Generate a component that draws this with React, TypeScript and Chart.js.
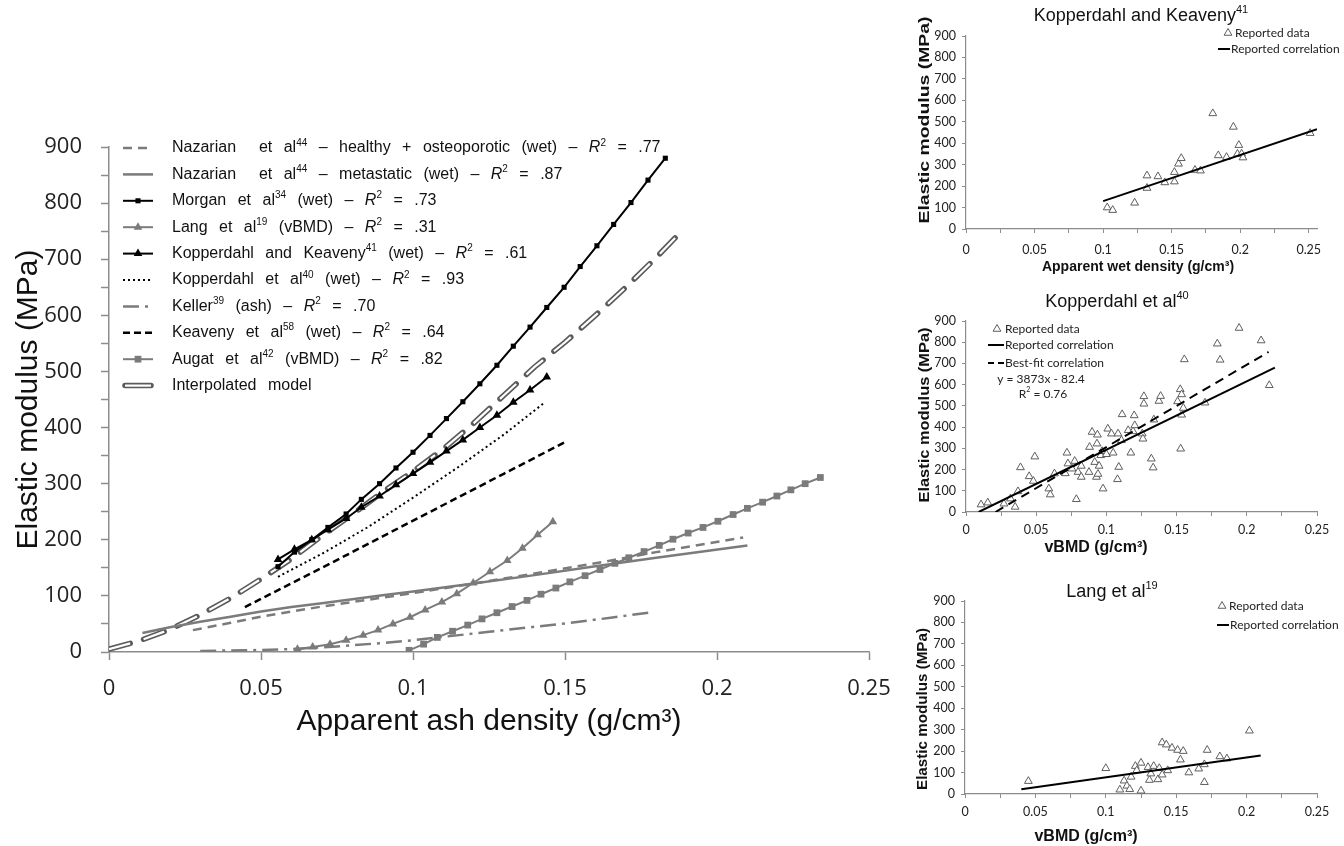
import React, { useEffect, useRef } from 'react';
import { Chart, registerables } from 'chart.js';
Chart.register(...registerables);

// ---------------- main chart data ----------------
const mainXTicks = [0, 0.05, 0.1, 0.15, 0.2, 0.25];
const mainXTickLabels = ['0', '0.05', '0.1', '0.15', '0.2', '0.25'];
const mainYTicks = [0, 50, 100, 150, 200, 250, 300, 350, 400, 450, 500, 550, 600, 650, 700, 750, 800, 850, 900];
const mainYTickLabels = ['0', '', '100', '', '200', '', '300', '', '400', '', '500', '', '600', '', '700', '', '800', '', '900'];

const nazHealthyX = [0.0276, 0.04, 0.05, 0.06, 0.07, 0.08, 0.09, 0.1, 0.12, 0.14, 0.16, 0.18, 0.2086];
const nazHealthyY = [39, 52, 63, 72, 81, 89, 97, 105, 122, 140, 158, 178, 204];
const nazMetaX = [0.011, 0.02, 0.03, 0.04, 0.05, 0.06, 0.07, 0.08, 0.09, 0.1, 0.12, 0.14, 0.16, 0.18, 0.21];
const nazMetaY = [34, 44, 54, 63, 72, 80, 87, 94, 101, 108, 122, 137, 153, 168, 190];
const morganX = [0.0556, 0.061, 0.0667, 0.072, 0.078, 0.083, 0.089, 0.0944, 0.1, 0.1056, 0.111, 0.1164, 0.122, 0.1276, 0.133, 0.1385, 0.144, 0.1497, 0.155, 0.1605, 0.166, 0.1717, 0.1773, 0.183];
const morganY = [152, 178, 200, 222, 246, 272, 300, 328, 356, 386, 416, 446, 478, 511, 545, 579, 614, 650, 687, 724, 762, 801, 841, 880];
const langX = [0.062, 0.067, 0.0727, 0.078, 0.0836, 0.0885, 0.0934, 0.099, 0.104, 0.1095, 0.1144, 0.1198, 0.1253, 0.131, 0.136, 0.141, 0.146];
const langY = [5, 9, 14, 21, 30, 39, 50, 62, 75, 89, 104, 123, 143, 163, 185, 209, 232];
const kkX = [0.0556, 0.061, 0.0667, 0.072, 0.078, 0.083, 0.089, 0.0944, 0.1, 0.1056, 0.111, 0.1164, 0.122, 0.1276, 0.133, 0.1385, 0.144];
const kkY = [165, 183, 200, 218, 238, 258, 278, 298, 318, 338, 358, 378, 400, 422, 445, 467, 490];
const kopX = [0.0556, 0.07, 0.085, 0.1, 0.115, 0.13, 0.1434];
const kopY = [134, 175, 222, 275, 330, 388, 445];
const kellerX = [0.03, 0.045, 0.06, 0.075, 0.09, 0.1, 0.11, 0.125, 0.14, 0.15, 0.165, 0.1786];
const kellerY = [2, 3, 5, 10, 16, 21, 27, 36, 45, 51, 61, 71];
const keavenyX = [0.0447, 0.07, 0.09, 0.11, 0.13, 0.15];
const keavenyY = [80, 150, 206, 262, 318, 374];
const augatX = [0.0987, 0.1035, 0.108, 0.113, 0.118, 0.1227, 0.1276, 0.1326, 0.1375, 0.1421, 0.147, 0.1516, 0.1566, 0.1615, 0.1664, 0.171, 0.176, 0.181, 0.1855, 0.1905, 0.1954, 0.2003, 0.2053, 0.21, 0.215, 0.2197, 0.2243, 0.229, 0.234];
const augatY = [3, 14, 26, 37, 48, 59, 70, 81, 92, 103, 114, 125, 136, 147, 158, 168, 179, 190, 201, 212, 222, 233, 245, 256, 267, 278, 289, 300, 311];
const interpX = [0, 0.01, 0.02, 0.03, 0.04, 0.05, 0.06, 0.07, 0.08, 0.09, 0.1, 0.11, 0.12, 0.13, 0.14, 0.15, 0.16, 0.17, 0.18, 0.188];
const interpY = [5, 20, 40, 66, 96, 130, 166, 207, 245, 285, 322, 362, 408, 458, 508, 552, 600, 650, 703, 748];

const mainLegendLabels = [
  'Nazarian  et al^44 – healthy + osteoporotic (wet) – *R*^2 = .77',
  'Nazarian  et al^44 – metastatic (wet) – *R*^2 = .87',
  'Morgan et al^34 (wet) – *R*^2 = .73',
  'Lang et al^19 (vBMD) – *R*^2 = .31',
  'Kopperdahl and Keaveny^41 (wet) – *R*^2 = .61',
  'Kopperdahl et al^40 (wet) – *R*^2 = .93',
  'Keller^39 (ash) – *R*^2 = .70',
  'Keaveny et al^58 (wet) – *R*^2 = .64',
  'Augat et al^42 (vBMD) – *R*^2 = .82',
  'Interpolated model',
];
const mainSeriesX = [nazHealthyX, nazMetaX, morganX, langX, kkX, kopX, kellerX, keavenyX, augatX, interpX];
const mainSeriesY = [nazHealthyY, nazMetaY, morganY, langY, kkY, kopY, kellerY, keavenyY, augatY, interpY];

// ---------------- small chart data ----------------
const smallXTicks = [0, 0.025, 0.05, 0.075, 0.1, 0.125, 0.15, 0.175, 0.2, 0.225, 0.25];
const smallXTickLabels = ['0', '', '0.05', '', '0.1', '', '0.15', '', '0.2', '', '0.25'];

const kkDataX = [0.103, 0.107, 0.123, 0.132, 0.132, 0.140, 0.145, 0.152, 0.152, 0.155, 0.157, 0.167, 0.171, 0.18, 0.184, 0.19, 0.195, 0.198, 0.199, 0.201, 0.202, 0.251];
const kkDataY = [100, 88, 122, 249, 191, 245, 217, 221, 265, 304, 330, 275, 272, 539, 343, 335, 476, 350, 391, 351, 333, 447];
const kkCorrX = [0.1, 0.256];
const kkCorrY = [130, 465];

const kopDataX = [0.0107, 0.0155, 0.027, 0.0317, 0.035, 0.037, 0.0388, 0.045, 0.048, 0.049, 0.059, 0.06, 0.063, 0.0707, 0.0719, 0.0726, 0.0755, 0.0774, 0.0786, 0.0798, 0.0821, 0.0821, 0.0876, 0.088, 0.0898, 0.0936, 0.0933, 0.0917, 0.0929, 0.094, 0.0948, 0.096, 0.0969, 0.0976, 0.1, 0.101, 0.1036, 0.1048, 0.1079, 0.1083, 0.1088, 0.1107, 0.1112, 0.1155, 0.1174, 0.119, 0.1198, 0.1202, 0.1255, 0.126, 0.1267, 0.1267, 0.132, 0.1333, 0.1338, 0.1374, 0.1386, 0.1507, 0.1526, 0.1536, 0.1536, 0.1529, 0.1548, 0.1555, 0.1702, 0.179, 0.181, 0.1945, 0.2102, 0.216];
const kopDataY = [35, 44, 39, 63, 24, 97, 210, 168, 146, 261, 110, 82, 181, 182, 279, 228, 204, 240, 60, 188, 217, 165, 188, 306, 377, 364, 322, 235, 165, 179, 217, 267, 286, 110, 272, 392, 369, 279, 154, 369, 212, 338, 460, 385, 279, 380, 455, 408, 369, 345, 545, 510, 251, 209, 435, 523, 546, 521, 578, 554, 458, 298, 490, 719, 515, 793, 717, 867, 808, 597];
const kopCorrX = [0.009, 0.22];
const kopCorrY = [0, 680];
const kopFitX = [0.021, 0.2155];
const kopFitY = [0, 754];

const langDataX = [0.045, 0.1, 0.11, 0.113, 0.115, 0.117, 0.118, 0.121, 0.122, 0.125, 0.125, 0.13, 0.131, 0.132, 0.134, 0.137, 0.138, 0.14, 0.14, 0.143, 0.144, 0.147, 0.151, 0.153, 0.155, 0.159, 0.166, 0.17, 0.17, 0.172, 0.181, 0.186, 0.202];
const langDataY = [60, 120, 20, 62, 38, 22, 80, 130, 110, 145, 15, 125, 65, 95, 130, 68, 120, 90, 240, 230, 110, 215, 205, 160, 200, 100, 118, 55, 138, 205, 175, 165, 295];
const langCorrX = [0.04, 0.21];
const langCorrY = [22, 180];

// ---------------- styles ----------------
const GRAY = '#7b7b7b';
const BLACK = '#000000';
const AXIS = '#8c8c8c';
const ARIAL = '"Liberation Sans", Arial, sans-serif';
const TICKFONT = '"Open Sans", "DejaVu Sans", sans-serif';
const SMALLFONT = 'Lato, "Liberation Sans", sans-serif';

type Style = { color?: string; width?: number; dash?: number[]; marker?: string; mSize?: number; double?: boolean };
const mainStyles: Style[] = [
  { color: GRAY, width: 2.5, dash: [9, 6] },
  { color: GRAY, width: 2.5, dash: [] },
  { color: BLACK, width: 2, dash: [], marker: 'rect', mSize: 3.6 },
  { color: GRAY, width: 2, dash: [], marker: 'triangle', mSize: 5 },
  { color: BLACK, width: 2, dash: [], marker: 'triangle', mSize: 5 },
  { color: BLACK, width: 2, dash: [2, 3] },
  { color: GRAY, width: 2.5, dash: [16, 6, 3, 6] },
  { color: BLACK, width: 2.5, dash: [7, 4] },
  { color: GRAY, width: 2, dash: [], marker: 'rect', mSize: 4.8 },
  { double: true },
];

const pts = (xs: number[], ys: number[]) => xs.map((x, i) => ({ x, y: ys[i] }));

// ---------------- rich text helper ----------------
type Seg = { t: string; k: 'n' | 's' | 'i' };
function parseRich(s: string): Seg[] {
  const out: Seg[] = [];
  const re = /(\^\d+|\*[^*]+\*)/g;
  let last = 0;
  let m: RegExpExecArray | null;
  while ((m = re.exec(s))) {
    if (m.index > last) out.push({ t: s.slice(last, m.index), k: 'n' });
    const tok = m[0];
    if (tok[0] === '^') out.push({ t: tok.slice(1), k: 's' });
    else out.push({ t: tok.slice(1, -1), k: 'i' });
    last = m.index + tok.length;
  }
  if (last < s.length) out.push({ t: s.slice(last), k: 'n' });
  return out;
}

function drawRich(ctx: CanvasRenderingContext2D, s: string, x: number, y: number, size: number, family: string, opts: { align?: string; gap?: number; color?: string; weight?: string } = {}) {
  const segs = parseRich(s);
  const gap = opts.gap || 0;
  const w = opts.weight || 'normal';
  const fontFor = (k: string) => (k === 's' ? `${w} ${Math.round(size * 0.62)}px ${family}` : k === 'i' ? `italic ${w} ${size}px ${family}` : `${w} ${size}px ${family}`);
  const segWidth = (sg: Seg) => {
    ctx.font = fontFor(sg.k);
    const parts = sg.t.split(' ');
    let tw = 0;
    parts.forEach((p, i) => {
      tw += ctx.measureText(p).width;
      if (i < parts.length - 1) tw += ctx.measureText(' ').width + gap;
    });
    return tw;
  };
  ctx.save();
  const total = segs.reduce((a, sg) => a + segWidth(sg), 0);
  let cx = opts.align === 'center' ? x - total / 2 : x;
  ctx.fillStyle = opts.color || '#111';
  ctx.textBaseline = 'middle';
  ctx.textAlign = 'left';
  for (const sg of segs) {
    ctx.font = fontFor(sg.k);
    const dy = sg.k === 's' ? -size * 0.32 : 0;
    const parts = sg.t.split(' ');
    parts.forEach((p, i) => {
      if (p) ctx.fillText(p, cx, y + dy);
      cx += ctx.measureText(p).width;
      if (i < parts.length - 1) cx += ctx.measureText(' ').width + gap;
    });
  }
  ctx.restore();
}

function drawMarker(ctx: CanvasRenderingContext2D, kind: string, x: number, y: number, r: number, color: string) {
  ctx.save();
  ctx.fillStyle = color;
  ctx.strokeStyle = color;
  ctx.setLineDash([]);
  if (kind === 'rect') {
    const h = r * Math.SQRT1_2;
    ctx.fillRect(x - h, y - h, 2 * h, 2 * h);
  } else if (kind === 'triangle') {
    ctx.beginPath();
    ctx.moveTo(x, y - r);
    ctx.lineTo(x + r * 0.866, y + r * 0.5);
    ctx.lineTo(x - r * 0.866, y + r * 0.5);
    ctx.closePath();
    ctx.fill();
  }
  ctx.restore();
}

function hLine(ctx: CanvasRenderingContext2D, x0: number, x1: number, y: number) {
  ctx.beginPath();
  ctx.moveTo(x0, y);
  ctx.lineTo(x1, y);
  ctx.stroke();
}

// ---------------- main chart ----------------
function makeMain(canvas: HTMLCanvasElement) {
  const datasets: any[] = [];
  mainStyles.forEach((st, i) => {
    const data = pts(mainSeriesX[i], mainSeriesY[i]);
    if (st.double) {
      datasets.push({ data, showLine: true, borderColor: '#5a5a5a', borderWidth: 5.5, borderDash: [22, 14], borderCapStyle: 'round', pointRadius: 0, order: 21 });
      datasets.push({ data, showLine: true, borderColor: '#ffffff', borderWidth: 2.2, borderDash: [22, 14], borderCapStyle: 'butt', pointRadius: 0, order: 20 });
    } else {
      datasets.push({
        data,
        showLine: true,
        borderColor: st.color,
        borderWidth: st.width,
        borderDash: st.dash,
        pointRadius: st.marker ? st.mSize : 0,
        pointStyle: st.marker || 'circle',
        pointBackgroundColor: st.color,
        pointBorderColor: st.color,
        pointBorderWidth: 0,
        order: i,
      });
    }
  });

  const legendPlugin = {
    id: 'mainLegend',
    afterDraw(chart: any) {
      const ctx = chart.ctx as CanvasRenderingContext2D;
      const x0 = 123, x1 = 153, tx = 172;
      mainLegendLabels.forEach((lab, i) => {
        const y = 148 + i * 26.4;
        const st = mainStyles[i];
        ctx.save();
        if (st.double) {
          ctx.lineCap = 'round';
          ctx.strokeStyle = '#5a5a5a';
          ctx.lineWidth = 5.5;
          hLine(ctx, x0 + 2, x1 - 2, y);
          ctx.strokeStyle = '#fff';
          ctx.lineWidth = 2.2;
          ctx.lineCap = 'butt';
          hLine(ctx, x0 + 2, x1 - 2, y);
        } else {
          ctx.strokeStyle = st.color!;
          ctx.lineWidth = st.width!;
          ctx.setLineDash(st.dash || []);
          hLine(ctx, x0, x1, y);
          if (st.marker) drawMarker(ctx, st.marker, (x0 + x1) / 2, y, st.mSize!, st.color!);
        }
        ctx.restore();
        drawRich(ctx, lab, tx, y, 16, ARIAL, { gap: 7, color: '#111' });
      });
    },
  };

  return new Chart(canvas, {
    type: 'scatter',
    data: { datasets },
    options: {
      responsive: false,
      animation: false,
      events: [],
      layout: { padding: { left: 0, top: 147, right: 51, bottom: 106 } },
      plugins: { legend: { display: false }, tooltip: { enabled: false } },
      scales: {
        x: {
          type: 'linear',
          min: 0,
          max: 0.25,
          afterBuildTicks: (s: any) => { s.ticks = mainXTicks.map((v) => ({ value: v })); },
          afterFit: (s: any) => { s.height = 88; },
          ticks: { callback: (_v: any, i: number) => mainXTickLabels[i], autoSkip: false, maxRotation: 0, padding: 16, color: '#222', font: { family: TICKFONT, size: 22 } },
          grid: { drawOnChartArea: false, drawTicks: true, tickLength: 8, tickColor: AXIS, tickWidth: 1.5 },
          border: { color: AXIS, width: 1.5 },
          title: { display: true, text: 'Apparent ash density (g/cm³)', color: '#111', font: { family: ARIAL, size: 30 }, padding: { top: 0, bottom: 0 } },
        },
        y: {
          type: 'linear',
          min: 0,
          max: 900,
          afterBuildTicks: (s: any) => { s.ticks = mainYTicks.map((v) => ({ value: v })); },
          afterFit: (s: any) => { s.width = 109; },
          ticks: { callback: (_v: any, i: number) => mainYTickLabels[i], autoSkip: false, padding: 19, color: '#222', font: { family: TICKFONT, size: 22 } },
          grid: { drawOnChartArea: false, drawTicks: true, tickLength: 8, tickColor: AXIS, tickWidth: 1.5 },
          border: { color: AXIS, width: 1.5 },
          title: { display: true, text: 'Elastic modulus (MPa)', color: '#111', font: { family: ARIAL, size: 30 }, padding: { top: 11, bottom: 0 } },
        },
      },
    } as any,
    plugins: [legendPlugin],
  });
}

// ---------------- small charts ----------------
type LegendItem = { kind: 'tri' | 'line' | 'dash' | 'text'; x: number; y: number; x1?: number; text: string; center?: boolean };
type SmallSpec = {
  W: number; H: number;
  area: { left: number; right: number; top: number; bottom: number };
  xMax: number; xLabelPad: number;
  title: string; titleX: number; titleY: number;
  xTitle: string; xTitleX: number; xTitleY: number; xTitleSize: number;
  yTitleX: number; yTitleY: number; yTitleLen: number;
  sx: number[]; sy: number[];
  lines: { x: number[]; y: number[]; dash?: number[] }[];
  legend: LegendItem[];
};

function makeSmall(canvas: HTMLCanvasElement, spec: SmallSpec) {
  const datasets: any[] = [
    { data: pts(spec.sx, spec.sy), showLine: false, pointStyle: 'triangle', pointRadius: 4.5, pointBorderColor: '#5e5e5e', pointBackgroundColor: '#ffffff', pointBorderWidth: 1, order: 5 },
    ...spec.lines.map((l, i) => ({ data: pts(l.x, l.y), showLine: true, borderColor: '#000', borderWidth: 2, borderDash: l.dash || [], pointRadius: 0, order: i })),
  ];
  const deco = {
    id: 'smallDeco',
    afterDraw(chart: any) {
      const ctx = chart.ctx as CanvasRenderingContext2D;
      drawRich(ctx, spec.title, spec.titleX, spec.titleY, 18, ARIAL, { align: 'center', color: '#111' });
      drawRich(ctx, spec.xTitle, spec.xTitleX, spec.xTitleY, spec.xTitleSize, ARIAL, { align: 'center', color: '#111', weight: 'bold' });
      ctx.save();
      ctx.font = `bold 14px ${ARIAL}`;
      const txt = 'Elastic modulus (MPa)';
      const w = ctx.measureText(txt).width;
      ctx.translate(spec.yTitleX, spec.yTitleY);
      ctx.rotate(-Math.PI / 2);
      ctx.scale(spec.yTitleLen / w, 1);
      ctx.fillStyle = '#111';
      ctx.textAlign = 'center';
      ctx.textBaseline = 'middle';
      ctx.fillText(txt, 0, 0);
      ctx.restore();
      for (const it of spec.legend) {
        ctx.save();
        if (it.kind === 'tri') {
          ctx.beginPath();
          const r = 4.5;
          ctx.moveTo(it.x, it.y - r);
          ctx.lineTo(it.x + r * 0.866, it.y + r * 0.5);
          ctx.lineTo(it.x - r * 0.866, it.y + r * 0.5);
          ctx.closePath();
          ctx.fillStyle = '#fff';
          ctx.fill();
          ctx.strokeStyle = '#5e5e5e';
          ctx.lineWidth = 1;
          ctx.stroke();
        } else if (it.kind === 'line' || it.kind === 'dash') {
          ctx.strokeStyle = '#000';
          ctx.lineWidth = 2;
          ctx.setLineDash(it.kind === 'dash' ? [6, 4] : []);
          hLine(ctx, it.x, it.x1!, it.y);
        }
        ctx.restore();
      }
      for (const it of spec.legend) {
        const tx = it.kind === 'text' ? it.x : it.kind === 'tri' ? it.x1! : it.x1! + 1;
        drawRich(ctx, it.text, tx, it.y, 12, SMALLFONT, { align: it.center ? 'center' : 'left', color: '#222' });
      }
    },
  };
  const a = spec.area;
  return new Chart(canvas, {
    type: 'scatter',
    data: { datasets },
    options: {
      responsive: false,
      animation: false,
      events: [],
      layout: { padding: { left: 0, top: a.top, right: spec.W - a.right, bottom: spec.H - a.bottom - 30 } },
      plugins: { legend: { display: false }, tooltip: { enabled: false } },
      scales: {
        x: {
          type: 'linear',
          min: 0,
          max: spec.xMax,
          afterBuildTicks: (s: any) => { s.ticks = smallXTicks.map((v) => ({ value: v })); },
          afterFit: (s: any) => { s.height = 30; },
          ticks: { callback: (_v: any, i: number) => smallXTickLabels[i], autoSkip: false, maxRotation: 0, padding: spec.xLabelPad, color: '#222', font: { family: SMALLFONT, size: 12.5 } },
          grid: { drawOnChartArea: false, drawTicks: true, tickLength: 4, tickColor: AXIS, tickWidth: 1 },
          border: { color: AXIS, width: 1.2 },
        },
        y: {
          type: 'linear',
          min: 0,
          max: 900,
          ticks: { stepSize: 100, padding: 6, color: '#222', font: { family: SMALLFONT, size: 12.5 } },
          afterFit: (s: any) => { s.width = a.left; },
          grid: { drawOnChartArea: false, drawTicks: true, tickLength: 4, tickColor: AXIS, tickWidth: 1 },
          border: { color: AXIS, width: 1.2 },
        },
      },
    } as any,
    plugins: [deco],
  });
}

const spec1: SmallSpec = {
  W: 444, H: 285,
  area: { left: 66, right: 417, top: 36, bottom: 229 },
  xMax: 0.256, xLabelPad: 9,
  title: 'Kopperdahl and Keaveny^41', titleX: 241, titleY: 16,
  xTitle: 'Apparent wet density (g/cm³)', xTitleX: 238, xTitleY: 267, xTitleSize: 14,
  yTitleX: 25, yTitleY: 120, yTitleLen: 207,
  sx: kkDataX, sy: kkDataY,
  lines: [{ x: kkCorrX, y: kkCorrY }],
  legend: [
    { kind: 'tri', x: 328, x1: 335, y: 33, text: 'Reported data' },
    { kind: 'line', x: 318, x1: 330, y: 49, text: 'Reported correlation' },
  ],
};
const spec2: SmallSpec = {
  W: 444, H: 290,
  area: { left: 66, right: 417, top: 36, bottom: 227 },
  xMax: 0.25, xLabelPad: 6,
  title: 'Kopperdahl et al^40', titleX: 217, titleY: 17,
  xTitle: 'vBMD (g/cm³)', xTitleX: 196, xTitleY: 263, xTitleSize: 16,
  yTitleX: 25, yTitleY: 130, yTitleLen: 175,
  sx: kopDataX, sy: kopDataY,
  lines: [{ x: kopCorrX, y: kopCorrY }, { x: kopFitX, y: kopFitY, dash: [9, 6] }],
  legend: [
    { kind: 'tri', x: 97, x1: 105, y: 44, text: 'Reported data' },
    { kind: 'line', x: 88, x1: 104, y: 60, text: 'Reported correlation' },
    { kind: 'dash', x: 88, x1: 104, y: 78, text: 'Best-fit correlation' },
    { kind: 'text', x: 141, y: 94, text: 'y = 3873x - 82.4', center: true },
    { kind: 'text', x: 143, y: 109, text: 'R^2 = 0.76', center: true },
  ],
};
const spec3: SmallSpec = {
  W: 444, H: 271,
  area: { left: 65, right: 417, top: 26, bottom: 219 },
  xMax: 0.25, xLabelPad: 6,
  title: 'Lang et al^19', titleX: 212, titleY: 17,
  xTitle: 'vBMD (g/cm³)', xTitleX: 186, xTitleY: 262, xTitleSize: 16,
  yTitleX: 23, yTitleY: 134, yTitleLen: 162,
  sx: langDataX, sy: langDataY,
  lines: [{ x: langCorrX, y: langCorrY }],
  legend: [
    { kind: 'tri', x: 322, x1: 329, y: 31, text: 'Reported data' },
    { kind: 'line', x: 317, x1: 329, y: 50, text: 'Reported correlation' },
  ],
};

export default function App() {
  const mainRef = useRef<HTMLCanvasElement>(null);
  const r1 = useRef<HTMLCanvasElement>(null);
  const r2 = useRef<HTMLCanvasElement>(null);
  const r3 = useRef<HTMLCanvasElement>(null);
  useEffect(() => {
    const charts = [
      makeMain(mainRef.current!),
      makeSmall(r1.current!, spec1),
      makeSmall(r2.current!, spec2),
      makeSmall(r3.current!, spec3),
    ];
    return () => charts.forEach((c) => c.destroy());
  }, []);
  const abs = (left: number, top: number, w: number, h: number): React.CSSProperties => ({ position: 'absolute', left, top, width: w, height: h });
  return (
    <div style={{ position: 'fixed', left: 0, top: 0, width: 1344, height: 846, background: '#fff', overflow: 'hidden' }}>
      <canvas ref={mainRef} width={920} height={846} style={abs(0, 0, 920, 846)} />
      <canvas ref={r1} width={444} height={285} style={abs(900, 0, 444, 285)} />
      <canvas ref={r2} width={444} height={290} style={abs(900, 285, 444, 290)} />
      <canvas ref={r3} width={444} height={271} style={abs(900, 575, 444, 271)} />
    </div>
  );
}
